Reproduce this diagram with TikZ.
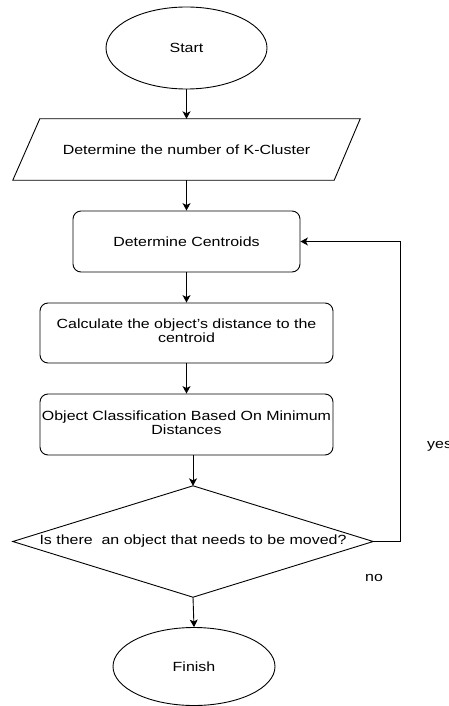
\documentclass[tikz,border=0pt]{standalone}
\usepackage{fontspec}
\setmainfont{Liberation Sans}
\usetikzlibrary{shapes.geometric,arrows.meta,calc}
\newcommand\tx[1]{\scalebox{1.2}[1]{#1}}
\newcommand\txx[2]{\scalebox{1.2}[1]{\begin{tabular}{@{}c@{}}#1\\#2\end{tabular}}}
\begin{document}
\begin{tikzpicture}[x=1pt,y=-1pt,
  every node/.style={font=\fontsize{13.3}{13.6}\selectfont, inner sep=0pt},
  ln/.style={line width=0.9pt, draw=black},
  arr/.style={ln, -{Stealth[length=7.5pt,width=8pt,inset=2pt]}},
  term/.style={ellipse, ln},
  proc/.style={rectangle, rounded corners=8pt, ln},
  ghost/.style={rectangle, draw=none}]
\useasboundingbox (0,0) rectangle (449,706);
\node[term, minimum width=161pt, minimum height=82pt] (start) at (186.5,48) {\tx{Start}};
\node[ghost, minimum width=347pt, minimum height=61pt] (kc) at (186.5,149.5) {\tx{Determine the number of K-Cluster}};
\draw[ln] ($(kc.north west)+(27,0)$) -- (kc.north east) -- ($(kc.south east)+(-26,0)$) -- (kc.south west) -- cycle;
\node[proc, minimum width=227pt, minimum height=61pt] (dc) at (186.5,241.5) {\tx{Determine Centroids}};
\node[proc, minimum width=293pt, minimum height=60pt] (calc) at (186.5,333) {\txx{Calculate the object's distance to the}{centroid}};
\node[proc, minimum width=293pt, minimum height=61pt] (oc) at (186.5,424.5) {\txx{Object Classification Based On Minimum}{Distances}};
\node[ghost, minimum width=360pt, minimum height=111pt] (dia) at (193,541.5) {\tx{Is there\ \ an object that needs to be moved?}};
\draw[ln] (dia.north) -- (dia.east) -- (dia.south) -- (dia.west) -- cycle;
\node[term, minimum width=162pt, minimum height=78pt] (fin) at (194,666.5) {\tx{Finish}};
\coordinate (lp) at (400,541.5);
\node[anchor=west] (yes) at (427,446) {\tx{yes}};
\node[anchor=west] (no) at (365,578) {\tx{no}};
\draw[arr] (start) -- (kc.north -| start.south);
\draw[arr] (kc.south) -- (dc.north);
\draw[arr] (dc.south) -- (calc.north);
\draw[arr] (calc.south) -- (oc.north);
\draw[arr] (oc.south -| dia.north) -- (dia.north);
\draw[arr] (dia.south) -- (fin.north);
\draw[arr] (dia.east) -- (lp) |- (dc.east);
\end{tikzpicture}
\end{document}
